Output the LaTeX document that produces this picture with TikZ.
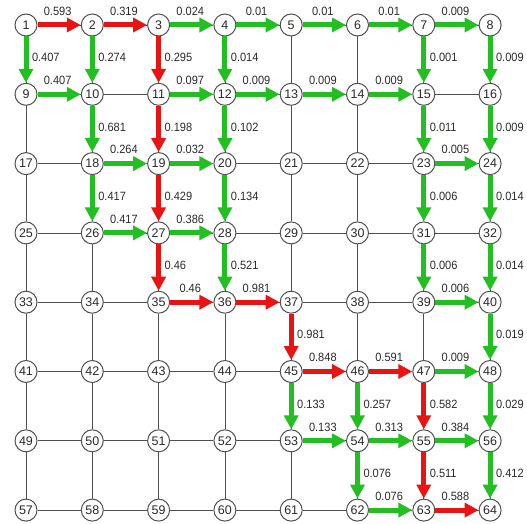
\documentclass[tikz,border=0pt]{standalone}
\usepackage{fontspec}
\setmainfont{Liberation Sans}
\newfontfamily\labfont[FakeStretch=0.92]{Liberation Sans}
\usetikzlibrary{arrows.meta}
\definecolor{flowred}{HTML}{E81414}
\definecolor{flowgreen}{HTML}{22BE22}
\definecolor{gridink}{HTML}{505050}
\definecolor{labink}{HTML}{2A2A2A}

\begin{document}
\begin{tikzpicture}[x=1pt, y=-1pt, font=\fontsize{12.5}{14}\selectfont]
  \def\DX{66.3}                  % column pitch
  \def\DY{69.3}                  % row pitch
  \useasboundingbox (0,0) rectangle (527,524);
  \tikzset{
    station/.style={circle, draw=gridink, line width=1pt, fill=white,
                    minimum size=22pt, inner sep=0pt, text=labink},
    gridline/.style={gridink, line width=0.8pt},
    hot/.style={flowred, line width=5pt, -{Triangle[length=14pt, width=14pt]}},
    cool/.style={flowgreen, line width=5pt, -{Triangle[length=14pt, width=14pt]}},
    hlab/.style={anchor=south, inner sep=0pt, yshift=7pt, xshift=-1.5pt,
                 text=labink, font=\labfont\fontsize{12}{14}\selectfont},
    vlab/.style={anchor=west, inner sep=0pt, xshift=3.5pt, yshift=2pt,
                 text=labink, font=\labfont\fontsize{12}{14}\selectfont}}

  % ---------- the 8x8 stations, numbered row by row ----------
  \foreach \r in {0,...,7}
    \foreach \c in {1,...,8} {
      \pgfmathtruncatemacro{\k}{8*\r+\c}
      \node[station] (n\k) at ({26+(\c-1)*\DX},{25+\r*\DY}) {\k};
    }

  % ---------- plain grid links ----------
  \foreach \r in {0,...,7}
    \foreach \c in {1,...,7} {
      \pgfmathtruncatemacro{\ka}{8*\r+\c}
      \pgfmathtruncatemacro{\kb}{\ka+1}
      \draw[gridline] (n\ka) -- (n\kb);
    }
  \foreach \ka in {1,...,56} {
    \pgfmathtruncatemacro{\kb}{\ka+8}
    \draw[gridline] (n\ka) -- (n\kb);
  }

  % ---------- flows going right ----------
  \foreach \p/\q/\v/\kind in {
      1/2/0.593/hot, 2/3/0.319/hot, 3/4/0.024/cool, 4/5/0.01/cool,
      5/6/0.01/cool, 6/7/0.01/cool, 7/8/0.009/cool,
      9/10/0.407/cool, 11/12/0.097/cool, 12/13/0.009/cool,
      13/14/0.009/cool, 14/15/0.009/cool,
      18/19/0.264/cool, 19/20/0.032/cool, 23/24/0.005/cool,
      26/27/0.417/cool, 27/28/0.386/cool,
      35/36/0.46/hot, 36/37/0.981/hot, 39/40/0.006/cool,
      45/46/0.848/hot, 46/47/0.591/hot, 47/48/0.009/cool,
      53/54/0.133/cool, 54/55/0.313/cool, 55/56/0.384/cool,
      62/63/0.076/cool, 63/64/0.588/hot}
    \draw[\kind] (n\p) -- (n\q) node[midway, hlab] {\v};

  % ---------- flows going down ----------
  \foreach \p/\q/\v/\kind in {
      1/9/0.407/cool, 2/10/0.274/cool, 3/11/0.295/hot, 4/12/0.014/cool,
      7/15/0.001/cool, 8/16/0.009/cool,
      10/18/0.681/cool, 11/19/0.198/hot, 12/20/0.102/cool,
      15/23/0.011/cool, 16/24/0.009/cool,
      18/26/0.417/cool, 19/27/0.429/hot, 20/28/0.134/cool,
      23/31/0.006/cool, 24/32/0.014/cool,
      27/35/0.46/hot, 28/36/0.521/cool, 31/39/0.006/cool, 32/40/0.014/cool,
      37/45/0.981/hot, 40/48/0.019/cool,
      45/53/0.133/cool, 46/54/0.257/cool, 47/55/0.582/hot, 48/56/0.029/cool,
      54/62/0.076/cool, 55/63/0.511/hot, 56/64/0.412/cool}
    \draw[\kind] (n\p) -- (n\q) node[midway, vlab] {\v};
\end{tikzpicture}
\end{document}
